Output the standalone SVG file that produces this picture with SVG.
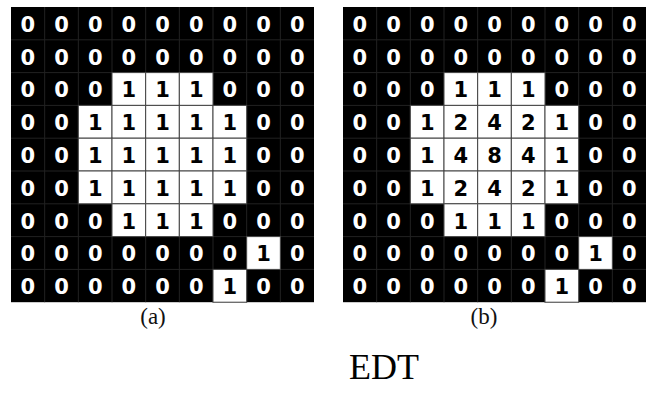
<svg xmlns="http://www.w3.org/2000/svg" width="652" height="412" viewBox="0 0 652 412">
<style>
.bg{fill:#000}
.gl{stroke:#222;stroke-width:1;fill:none}
.w{fill:#fff;stroke:#444;stroke-width:1}
.z{fill:#fff;font-family:"DejaVu Sans",Verdana,sans-serif;font-weight:bold;font-size:21px;text-anchor:middle}
.o{fill:#000;font-family:"DejaVu Sans",Verdana,sans-serif;font-weight:bold;font-size:21px;text-anchor:middle}
.cap{fill:#111;font-family:"Liberation Serif","Times New Roman",serif;font-size:23px;text-anchor:middle}
.title{fill:#000;font-family:"Liberation Serif","Times New Roman",serif;font-size:36px;text-anchor:middle}
</style>
<defs>
<g id="gridlines" class="gl">
<path d="M44.67 7V302.2M78.33 7V302.2M112 7V302.2M145.67 7V302.2M179.33 7V302.2M213 7V302.2M246.67 7V302.2M280.33 7V302.2M11 39.8H314M11 72.6H314M11 105.4H314M11 138.2H314M11 171H314M11 203.8H314M11 236.6H314M11 269.4H314"/>
</g>
<g id="whites">
<rect class="w" x="112" y="72.6" width="33.67" height="32.8"/>
<rect class="w" x="145.67" y="72.6" width="33.67" height="32.8"/>
<rect class="w" x="179.33" y="72.6" width="33.67" height="32.8"/>
<rect class="w" x="78.33" y="105.4" width="33.67" height="32.8"/>
<rect class="w" x="112" y="105.4" width="33.67" height="32.8"/>
<rect class="w" x="145.67" y="105.4" width="33.67" height="32.8"/>
<rect class="w" x="179.33" y="105.4" width="33.67" height="32.8"/>
<rect class="w" x="213" y="105.4" width="33.67" height="32.8"/>
<rect class="w" x="78.33" y="138.2" width="33.67" height="32.8"/>
<rect class="w" x="112" y="138.2" width="33.67" height="32.8"/>
<rect class="w" x="145.67" y="138.2" width="33.67" height="32.8"/>
<rect class="w" x="179.33" y="138.2" width="33.67" height="32.8"/>
<rect class="w" x="213" y="138.2" width="33.67" height="32.8"/>
<rect class="w" x="78.33" y="171" width="33.67" height="32.8"/>
<rect class="w" x="112" y="171" width="33.67" height="32.8"/>
<rect class="w" x="145.67" y="171" width="33.67" height="32.8"/>
<rect class="w" x="179.33" y="171" width="33.67" height="32.8"/>
<rect class="w" x="213" y="171" width="33.67" height="32.8"/>
<rect class="w" x="112" y="203.8" width="33.67" height="32.8"/>
<rect class="w" x="145.67" y="203.8" width="33.67" height="32.8"/>
<rect class="w" x="179.33" y="203.8" width="33.67" height="32.8"/>
<rect class="w" x="246.67" y="236.6" width="33.67" height="32.8"/>
<rect class="w" x="213" y="269.4" width="33.67" height="32.8"/>
</g>
</defs>

<g id="grid-a">
<rect class="bg" x="11" y="7" width="303" height="295.2"/>
<use href="#gridlines"/>
<use href="#whites"/>
<!-- row 0 -->
<text class="z" x="27.8" y="31.7">0</text><text class="z" x="61.5" y="31.7">0</text><text class="z" x="95.2" y="31.7">0</text><text class="z" x="128.8" y="31.7">0</text><text class="z" x="162.5" y="31.7">0</text><text class="z" x="196.2" y="31.7">0</text><text class="z" x="229.8" y="31.7">0</text><text class="z" x="263.5" y="31.7">0</text><text class="z" x="297.2" y="31.7">0</text>
<!-- row 1 -->
<text class="z" x="27.8" y="64.5">0</text><text class="z" x="61.5" y="64.5">0</text><text class="z" x="95.2" y="64.5">0</text><text class="z" x="128.8" y="64.5">0</text><text class="z" x="162.5" y="64.5">0</text><text class="z" x="196.2" y="64.5">0</text><text class="z" x="229.8" y="64.5">0</text><text class="z" x="263.5" y="64.5">0</text><text class="z" x="297.2" y="64.5">0</text>
<!-- row 2 -->
<text class="z" x="27.8" y="97.3">0</text><text class="z" x="61.5" y="97.3">0</text><text class="z" x="95.2" y="97.3">0</text><text class="o" x="128.8" y="97.3">1</text><text class="o" x="162.5" y="97.3">1</text><text class="o" x="196.2" y="97.3">1</text><text class="z" x="229.8" y="97.3">0</text><text class="z" x="263.5" y="97.3">0</text><text class="z" x="297.2" y="97.3">0</text>
<!-- row 3 -->
<text class="z" x="27.8" y="130.1">0</text><text class="z" x="61.5" y="130.1">0</text><text class="o" x="95.2" y="130.1">1</text><text class="o" x="128.8" y="130.1">1</text><text class="o" x="162.5" y="130.1">1</text><text class="o" x="196.2" y="130.1">1</text><text class="o" x="229.8" y="130.1">1</text><text class="z" x="263.5" y="130.1">0</text><text class="z" x="297.2" y="130.1">0</text>
<!-- row 4 -->
<text class="z" x="27.8" y="162.9">0</text><text class="z" x="61.5" y="162.9">0</text><text class="o" x="95.2" y="162.9">1</text><text class="o" x="128.8" y="162.9">1</text><text class="o" x="162.5" y="162.9">1</text><text class="o" x="196.2" y="162.9">1</text><text class="o" x="229.8" y="162.9">1</text><text class="z" x="263.5" y="162.9">0</text><text class="z" x="297.2" y="162.9">0</text>
<!-- row 5 -->
<text class="z" x="27.8" y="195.7">0</text><text class="z" x="61.5" y="195.7">0</text><text class="o" x="95.2" y="195.7">1</text><text class="o" x="128.8" y="195.7">1</text><text class="o" x="162.5" y="195.7">1</text><text class="o" x="196.2" y="195.7">1</text><text class="o" x="229.8" y="195.7">1</text><text class="z" x="263.5" y="195.7">0</text><text class="z" x="297.2" y="195.7">0</text>
<!-- row 6 -->
<text class="z" x="27.8" y="228.5">0</text><text class="z" x="61.5" y="228.5">0</text><text class="z" x="95.2" y="228.5">0</text><text class="o" x="128.8" y="228.5">1</text><text class="o" x="162.5" y="228.5">1</text><text class="o" x="196.2" y="228.5">1</text><text class="z" x="229.8" y="228.5">0</text><text class="z" x="263.5" y="228.5">0</text><text class="z" x="297.2" y="228.5">0</text>
<!-- row 7 -->
<text class="z" x="27.8" y="261.3">0</text><text class="z" x="61.5" y="261.3">0</text><text class="z" x="95.2" y="261.3">0</text><text class="z" x="128.8" y="261.3">0</text><text class="z" x="162.5" y="261.3">0</text><text class="z" x="196.2" y="261.3">0</text><text class="z" x="229.8" y="261.3">0</text><text class="o" x="263.5" y="261.3">1</text><text class="z" x="297.2" y="261.3">0</text>
<!-- row 8 -->
<text class="z" x="27.8" y="294.1">0</text><text class="z" x="61.5" y="294.1">0</text><text class="z" x="95.2" y="294.1">0</text><text class="z" x="128.8" y="294.1">0</text><text class="z" x="162.5" y="294.1">0</text><text class="z" x="196.2" y="294.1">0</text><text class="o" x="229.8" y="294.1">1</text><text class="z" x="263.5" y="294.1">0</text><text class="z" x="297.2" y="294.1">0</text>
<text class="cap" x="153" y="324">(a)</text>
</g>

<g id="grid-b">
<rect class="bg" x="343" y="7" width="303" height="295.2"/>
<use href="#gridlines" transform="translate(332,0)"/>
<use href="#whites" transform="translate(332,0)"/>
<!-- row 0 -->
<text class="z" x="359.8" y="31.7">0</text><text class="z" x="393.5" y="31.7">0</text><text class="z" x="427.2" y="31.7">0</text><text class="z" x="460.8" y="31.7">0</text><text class="z" x="494.5" y="31.7">0</text><text class="z" x="528.2" y="31.7">0</text><text class="z" x="561.8" y="31.7">0</text><text class="z" x="595.5" y="31.7">0</text><text class="z" x="629.2" y="31.7">0</text>
<!-- row 1 -->
<text class="z" x="359.8" y="64.5">0</text><text class="z" x="393.5" y="64.5">0</text><text class="z" x="427.2" y="64.5">0</text><text class="z" x="460.8" y="64.5">0</text><text class="z" x="494.5" y="64.5">0</text><text class="z" x="528.2" y="64.5">0</text><text class="z" x="561.8" y="64.5">0</text><text class="z" x="595.5" y="64.5">0</text><text class="z" x="629.2" y="64.5">0</text>
<!-- row 2 -->
<text class="z" x="359.8" y="97.3">0</text><text class="z" x="393.5" y="97.3">0</text><text class="z" x="427.2" y="97.3">0</text><text class="o" x="460.8" y="97.3">1</text><text class="o" x="494.5" y="97.3">1</text><text class="o" x="528.2" y="97.3">1</text><text class="z" x="561.8" y="97.3">0</text><text class="z" x="595.5" y="97.3">0</text><text class="z" x="629.2" y="97.3">0</text>
<!-- row 3 -->
<text class="z" x="359.8" y="130.1">0</text><text class="z" x="393.5" y="130.1">0</text><text class="o" x="427.2" y="130.1">1</text><text class="o" x="460.8" y="130.1">2</text><text class="o" x="494.5" y="130.1">4</text><text class="o" x="528.2" y="130.1">2</text><text class="o" x="561.8" y="130.1">1</text><text class="z" x="595.5" y="130.1">0</text><text class="z" x="629.2" y="130.1">0</text>
<!-- row 4 -->
<text class="z" x="359.8" y="162.9">0</text><text class="z" x="393.5" y="162.9">0</text><text class="o" x="427.2" y="162.9">1</text><text class="o" x="460.8" y="162.9">4</text><text class="o" x="494.5" y="162.9">8</text><text class="o" x="528.2" y="162.9">4</text><text class="o" x="561.8" y="162.9">1</text><text class="z" x="595.5" y="162.9">0</text><text class="z" x="629.2" y="162.9">0</text>
<!-- row 5 -->
<text class="z" x="359.8" y="195.7">0</text><text class="z" x="393.5" y="195.7">0</text><text class="o" x="427.2" y="195.7">1</text><text class="o" x="460.8" y="195.7">2</text><text class="o" x="494.5" y="195.7">4</text><text class="o" x="528.2" y="195.7">2</text><text class="o" x="561.8" y="195.7">1</text><text class="z" x="595.5" y="195.7">0</text><text class="z" x="629.2" y="195.7">0</text>
<!-- row 6 -->
<text class="z" x="359.8" y="228.5">0</text><text class="z" x="393.5" y="228.5">0</text><text class="z" x="427.2" y="228.5">0</text><text class="o" x="460.8" y="228.5">1</text><text class="o" x="494.5" y="228.5">1</text><text class="o" x="528.2" y="228.5">1</text><text class="z" x="561.8" y="228.5">0</text><text class="z" x="595.5" y="228.5">0</text><text class="z" x="629.2" y="228.5">0</text>
<!-- row 7 -->
<text class="z" x="359.8" y="261.3">0</text><text class="z" x="393.5" y="261.3">0</text><text class="z" x="427.2" y="261.3">0</text><text class="z" x="460.8" y="261.3">0</text><text class="z" x="494.5" y="261.3">0</text><text class="z" x="528.2" y="261.3">0</text><text class="z" x="561.8" y="261.3">0</text><text class="o" x="595.5" y="261.3">1</text><text class="z" x="629.2" y="261.3">0</text>
<!-- row 8 -->
<text class="z" x="359.8" y="294.1">0</text><text class="z" x="393.5" y="294.1">0</text><text class="z" x="427.2" y="294.1">0</text><text class="z" x="460.8" y="294.1">0</text><text class="z" x="494.5" y="294.1">0</text><text class="z" x="528.2" y="294.1">0</text><text class="o" x="561.8" y="294.1">1</text><text class="z" x="595.5" y="294.1">0</text><text class="z" x="629.2" y="294.1">0</text>
<text class="cap" x="484" y="324">(b)</text>
</g>

<text id="title" class="title" x="384" y="379">EDT</text>
</svg>
